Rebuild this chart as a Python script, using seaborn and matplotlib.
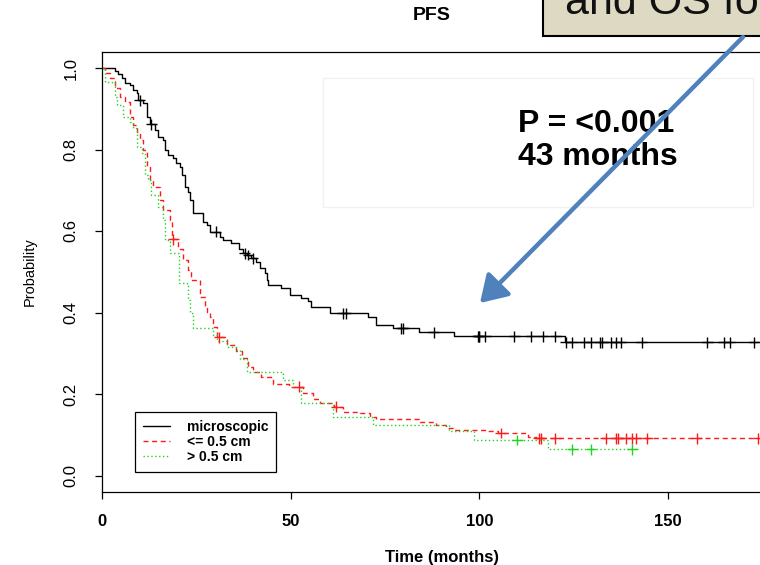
import numpy as np
import pandas as pd
import matplotlib
matplotlib.use('Agg')
import matplotlib.pyplot as plt
import seaborn as sns
from matplotlib.lines import Line2D
from matplotlib.patches import Rectangle, FancyArrowPatch

# step curves: time of drop -> survival after the drop
micro_t = [0, 3.4, 4.3, 5.2, 6.1, 7.4, 8.3, 9.2, 9.6, 10.9, 11.8, 12.8, 14.0, 14.9, 16.2, 16.6,
           17.5, 18.9, 19.7, 20.6, 21.3, 22.0, 22.8, 23.3, 24.0, 26.8, 27.7, 28.6, 31.2, 32.0,
           34.2, 36.4, 37.5, 38.5, 39.5, 40.9, 41.8, 43.1, 43.6, 44.0, 47.5, 49.7, 52.8, 54.6,
           55.4, 60.3, 70.5, 72.7, 77.1, 84.1, 93.4, 122.8]
micro_s = [1.0, 0.993, 0.985, 0.975, 0.962, 0.958, 0.946, 0.938, 0.921, 0.913, 0.880, 0.862,
           0.848, 0.831, 0.823, 0.799, 0.786, 0.778, 0.766, 0.758, 0.737, 0.709, 0.696, 0.676,
           0.643, 0.623, 0.615, 0.598, 0.586, 0.578, 0.570, 0.557, 0.545, 0.541, 0.533, 0.525,
           0.508, 0.496, 0.480, 0.467, 0.459, 0.443, 0.435, 0.427, 0.414, 0.398, 0.388, 0.369,
           0.361, 0.351, 0.342, 0.327]
micro_end = 176
micro_c = [10.0, 13.1, 30.2, 37.8, 38.7, 40.0, 63.8, 64.7, 79.3, 79.9, 87.9, 99.6, 99.8, 100.0,
           101.6, 109.3, 113.8, 116.8, 120.1, 122.9, 124.7, 127.8, 129.6, 132.0, 132.6, 134.8,
           136.2, 137.5, 143.0, 160.4, 164.8, 166.4, 172.8]

small_t = [0, 0.8, 2.1, 3.4, 4.8, 6.1, 7.4, 8.3, 9.2, 10.1, 10.9, 11.8, 12.7, 13.6, 15.3, 16.2,
           18.0, 18.5, 20.2, 21.5, 22.8, 23.7, 25.9, 27.2, 27.7, 28.6, 29.4, 30.5, 33.0, 35.6,
           37.0, 38.7, 40.0, 42.2, 45.2, 49.5, 53.3, 55.9, 57.7, 61.5, 63.9, 68.3, 70.9, 72.7,
           84.1, 88.5, 91.2, 92.9, 101.8, 105.0, 113.0, 115.0]
small_s = [1.0, 0.987, 0.975, 0.950, 0.930, 0.917, 0.880, 0.860, 0.844, 0.823, 0.799, 0.758,
           0.725, 0.709, 0.676, 0.652, 0.627, 0.580, 0.557, 0.529, 0.504, 0.480, 0.439, 0.414,
           0.402, 0.390, 0.365, 0.339, 0.320, 0.306, 0.288, 0.267, 0.255, 0.242, 0.225, 0.218,
           0.202, 0.187, 0.177, 0.169, 0.157, 0.153, 0.144, 0.138, 0.132, 0.124, 0.116, 0.112,
           0.108, 0.104, 0.095, 0.091]
small_end = 173.9
small_c = [18.9, 31.0, 52.1, 62.1, 105.7, 115.7, 116.3, 120.1, 133.5, 136.3, 136.8, 138.8,
           140.4, 141.6, 144.5, 157.6, 173.9]

large_t = [0, 0.8, 2.6, 3.4, 3.9, 5.6, 7.4, 8.3, 9.2, 10.5, 11.4, 12.2, 13.1, 14.9, 16.2, 16.7,
           18.0, 20.4, 22.4, 22.8, 23.3, 24.2, 29.4, 30.5, 33.0, 35.6, 36.5, 38.3, 48.0, 50.6,
           52.8, 61.2, 71.8, 92.1, 98.7, 118.3]
large_s = [1.0, 0.966, 0.962, 0.930, 0.909, 0.880, 0.868, 0.852, 0.807, 0.791, 0.737, 0.725,
           0.688, 0.660, 0.627, 0.578, 0.545, 0.472, 0.467, 0.431, 0.398, 0.361, 0.345, 0.330,
           0.316, 0.308, 0.285, 0.255, 0.234, 0.218, 0.179, 0.144, 0.124, 0.108, 0.087, 0.064]
large_end = 141.9
large_c = [110.1, 124.7, 129.6, 140.6]

groups = ['microscopic', '<= 0.5 cm', '> 0.5 cm']
colors = {'microscopic': 'black', '<= 0.5 cm': '#ff1a1a', '> 0.5 cm': '#1fd41f'}
dashes = {'microscopic': '', '<= 0.5 cm': (3.6, 2.6), '> 0.5 cm': (1, 1.8)}

curves = [(micro_t, micro_s, micro_end, micro_c),
          (small_t, small_s, small_end, small_c),
          (large_t, large_s, large_end, large_c)]

rows, cens = [], []
for g, (t, s, end, c) in zip(groups, curves):
    for ti, si in zip(t + [end], s + [s[-1]]):
        rows.append((g, ti, si))
    idx = np.searchsorted(t, c, side='right') - 1
    for ci, k in zip(c, idx):
        cens.append((g, ci, s[k]))
km = pd.DataFrame(rows, columns=['group', 'time', 'surv'])
marks = pd.DataFrame(cens, columns=['group', 'time', 'surv'])

sns.set_style('ticks', {'axes.edgecolor': 'black', 'xtick.color': 'black',
                        'ytick.color': 'black', 'text.color': 'black',
                        'axes.labelcolor': 'black'})
plt.rcParams['font.family'] = ['Liberation Sans', 'DejaVu Sans']
plt.rcParams['axes.linewidth'] = 0.9

W, H = 760, 565
fig = plt.figure(figsize=(W / 100, H / 100), dpi=100)
px_per_month = 3.773
ax = fig.add_axes([102 / W, (H - 491.8) / H, 180 * px_per_month / W, 440.1 / H])

sns.lineplot(data=km, x='time', y='surv', hue='group', style='group', palette=colors,
             dashes=dashes, drawstyle='steps-post', estimator=None, sort=False,
             linewidth=1.0, legend=False, ax=ax)
sns.scatterplot(data=marks, x='time', y='surv', hue='group', palette=colors, marker='+',
                s=60, linewidth=1.0, legend=False, ax=ax, zorder=3)

ax.set_xlim(0, 180)
ax.set_ylim(-0.04, 1.04)
ax.set_xticks([0, 50, 100, 150])
ax.set_xticklabels(['0', '50', '100', '150'], fontsize=12, fontweight='bold')
ax.set_yticks([0, 0.2, 0.4, 0.6, 0.8, 1.0])
ax.set_yticklabels(['0.0', '0.2', '0.4', '0.6', '0.8', '1.0'], fontsize=12,
                   rotation=90, va='center')
ax.tick_params(axis='both', direction='out', length=5, width=0.9)
ax.tick_params(axis='x', pad=11)
ax.tick_params(axis='y', pad=12)
ax.set_xlabel('Time (months)', fontsize=12, fontweight='bold', labelpad=15)
ax.set_ylabel('Probability', fontsize=10.5, labelpad=19)

handles = [Line2D([], [], color=colors[g], lw=1.0,
                  dashes=dashes[g] if dashes[g] else (None, None)) for g in groups]
leg = ax.legend(handles, groups, loc='lower left', bbox_to_anchor=(0.0486, 0.045),
                borderaxespad=0, fancybox=False, framealpha=1, edgecolor='black',
                prop={'size': 10, 'weight': 'bold'}, handlelength=2.0, handletextpad=1.2,
                labelspacing=0.1, borderpad=0.55)
leg.get_frame().set_linewidth(0.9)

fig.text(432 / W, 1 - 16 / H, 'PFS', fontsize=14, fontweight='bold', ha='center', va='center')

# faint shadow box behind the p-value text
fig.add_artist(Rectangle((323 / W, 1 - 207 / H), 430 / W, 129 / H, transform=fig.transFigure,
                         facecolor='none', edgecolor='#f1f1f1', lw=1))
fig.text(518 / W, 1 - 165 / H, 'P = <0.001\n43 months', fontsize=23, fontweight='bold',
         color='black', ha='left', va='baseline', linespacing=1.15)

# callout box cut off at the top
fig.add_artist(Rectangle((543 / W, 1 - 36 / H), 230 / W, 60 / H, transform=fig.transFigure,
                         facecolor='#ddd9c3', edgecolor='black', lw=1.5))
fig.text(565 / W, 1 - 14 / H, 'and OS fo', fontsize=31, color='#111111', ha='left',
         va='baseline')

arrow = FancyArrowPatch((743 / W, 1 - 37 / H), (480 / W, 1 - 303 / H),
                        transform=fig.transFigure,
                        arrowstyle='-|>,head_length=0.8,head_width=0.5',
                        mutation_scale=20, color='#4f81bd', lw=3.2, shrinkA=0, shrinkB=0,
                        zorder=6)
fig.add_artist(arrow)

fig.savefig('out.png', dpi=100)
